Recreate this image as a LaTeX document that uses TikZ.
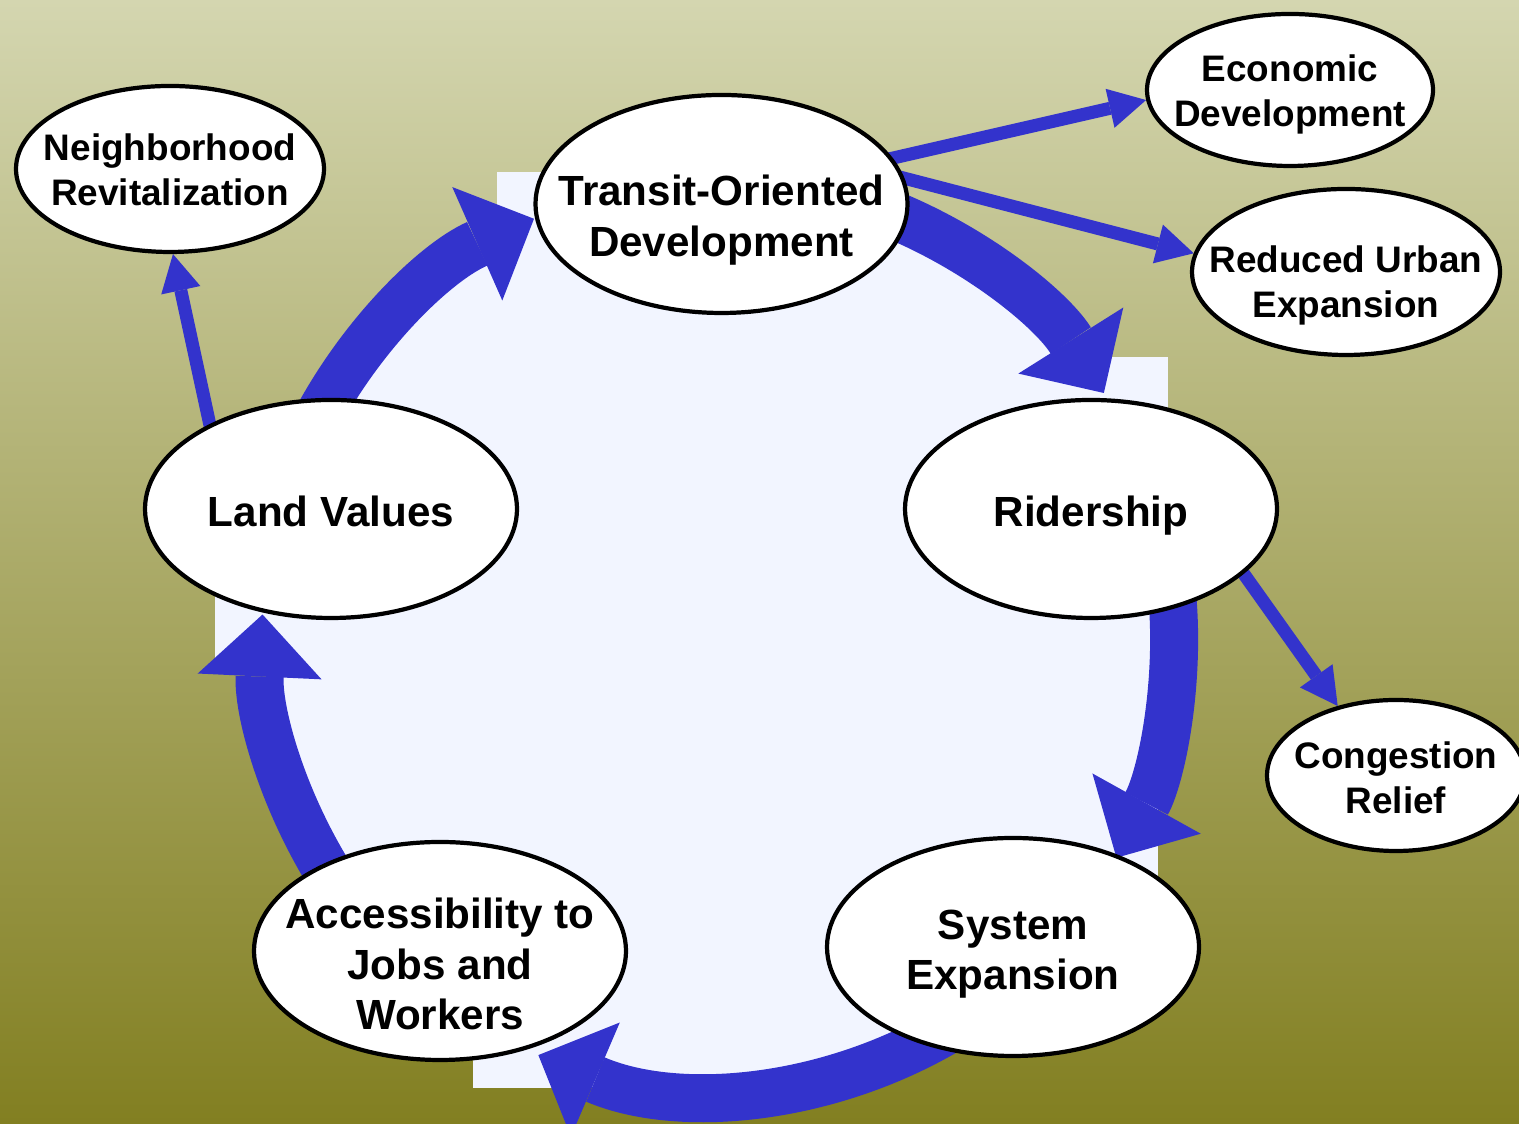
\documentclass[tikz,border=0pt]{standalone}
\usepackage{fontspec}
\setmainfont{Liberation Sans}
\usetikzlibrary{positioning,arrows.meta,shapes.geometric,backgrounds}
\definecolor{loopblue}{RGB}{51,51,204}
\definecolor{paleblue}{RGB}{242,245,255}
\definecolor{bgtop}{RGB}{212,214,176}
\definecolor{bgbottom}{RGB}{130,127,33}

\begin{document}
\begin{tikzpicture}[
    bubble/.style={ellipse, draw, line width=1.2pt, fill=white, inner sep=0pt},
    bigbubble/.style={bubble, minimum width=3.72cm, minimum height=2.18cm},
    smallbubble/.style={bubble, minimum width=3.08cm, minimum height=1.66cm},
    bigtext/.style={font=\bfseries\fontsize{12}{14.3}\selectfont, align=center, inner sep=0pt},
    smalltext/.style={font=\bfseries\fontsize{10.5}{12.8}\selectfont, align=center, inner sep=0pt},
    ringarrow/.style={draw=loopblue, line width=0.48cm, -{Triangle[width=1.24cm,length=0.62cm,line width=0pt]}},
    sidearrow/.style={draw=loopblue, line width=0.13cm, shorten <=-4pt, -{Triangle[width=0.4cm,length=0.37cm,line width=0pt]}}
]
\useasboundingbox (0,0) rectangle (15.19,11.24);
\clip (0,0) rectangle (15.19,11.24);

\node[bigbubble] (tod) at (7.215,9.20) {};
\node[smallbubble] (nbr) at (1.70,9.55) {};
\node[smallbubble, minimum width=2.86cm, minimum height=1.52cm] (econ) at (12.90,10.34) {};
\node[smallbubble] (reduced) at (13.46,8.52) {};
\node[bigbubble] (lv) at (3.31,6.15) {};
\node[bigbubble] (rider) at (10.91,6.15) {};
\node[smallbubble, minimum width=2.58cm, minimum height=1.51cm] (cong) at (13.96,3.485) {};
\node[bigbubble] (sysexp) at (10.13,1.77) {};
\node[bigbubble] (access) at (4.40,1.73) {};

\node[bigtext] (todtext) at ([yshift=-0.16cm]tod.center) {Transit-Oriented\\Development};
\node[smalltext] (nbrtext) at ([yshift=-0.01cm]nbr.center) {Neighborhood\\Revitalization};
\node[smalltext] (econtext) at ([yshift=-0.04cm]econ.center) {Economic\\Development};
\node[smalltext] (reducedtext) at ([yshift=-0.13cm]reduced.center) {Reduced Urban\\Expansion};
\node[bigtext] (lvtext) at ([yshift=-0.02cm]lv.center) {Land Values};
\node[bigtext] (ridertext) at ([yshift=-0.07cm]rider.center) {Ridership};
\node[smalltext] (congtext) at ([yshift=-0.025cm]cong.center) {Congestion\\Relief};
\node[bigtext] (sysexptext) at ([yshift=-0.07cm]sysexp.center) {System\\Expansion};
\node[bigtext] (accesstext) at ([yshift=-0.13cm]access.center) {Accessibility to\\Jobs and\\Workers};

\begin{scope}[on background layer]
\shade[top color=bgtop, bottom color=bgbottom] (0,0) rectangle (15.19,11.24);

\coordinate (hub) at (7.18,4.88);
\fill[paleblue] (hub) circle[radius=4.40];
\fill[paleblue] (4.97,9.52) rectangle (7.00,8.24);
\fill[paleblue] (10.00,7.67) rectangle (11.68,6.74);
\fill[paleblue] (2.15,5.64) rectangle (3.30,4.54);
\fill[paleblue] (4.73,1.24) rectangle (6.00,0.36);
\fill[paleblue] (10.00,3.44) rectangle (11.58,2.24);

\draw[ringarrow] ([shift={(155:4.56)}]hub) arc[start angle=155, end angle=113.8, radius=4.56];
\draw[ringarrow] ([shift={(70:4.56)}]hub) arc[start angle=70, end angle=32.2, radius=4.56];
\draw[ringarrow] ([shift={(5:4.56)}]hub) arc[start angle=5, end angle=-29.1, radius=4.56];
\draw[ringarrow] ([shift={(-55:4.56)}]hub) arc[start angle=-55, end angle=-113.2, radius=4.56];
\draw[ringarrow] ([shift={(215:4.56)}]hub) arc[start angle=215, end angle=177.3, radius=4.56];

\draw[sidearrow] (lv.145) -- (nbr.-88);
\draw[sidearrow] (tod.15) -- (econ.184);
\draw[sidearrow] (tod.8) -- (reduced.173);
\draw[sidearrow] (rider.-23) -- (cong.130);
\end{scope}
\end{tikzpicture}
\end{document}
